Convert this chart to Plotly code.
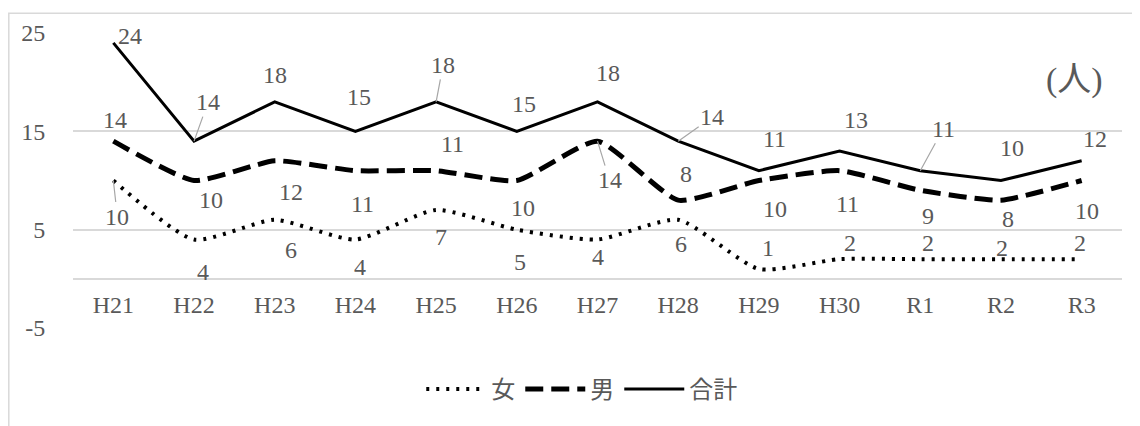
import plotly.graph_objects as go

categories = ["H21", "H22", "H23", "H24", "H25", "H26", "H27", "H28", "H29", "H30", "R1", "R2", "R3"]
female = [10, 4, 6, 4, 7, 5, 4, 6, 1, 2, 2, 2, 2]
male = [14, 10, 12, 11, 11, 10, 14, 8, 10, 11, 9, 8, 10]
total = [24, 14, 18, 15, 18, 15, 18, 14, 11, 13, 11, 10, 12]
y_ticks = [-5, 5, 15, 25]
y_tick_text = ["-5", "5", "15", "25"]
unit_label = "(人)"

# label placement (pixel offsets from the point, screen coords: +dy = down), leader flag
total_off = [(17, -7, 0), (14, -39, 1), (0, -27, 0), (4, -34, 0), (7, -37, 1), (7, -27, 0), (10, -29, 0),
             (34, -24, 1), (16, -32, 0), (16, -31, 0), (23, -42, 1), (11, -33, 0), (13, -22, 0)]
male_off = [(2, -21, 0), (17, 19, 0), (16, 31, 0), (7, 33, 0), (16, -27, 0), (6, 27, 0), (12, 39, 1),
            (8, -26, 0), (16, 28, 0), (8, 33, 0), (8, 26, 0), (7, 19, 0), (5, 30, 0)]
female_off = [(4, 36, 1), (9, 32, 0), (16, 30, 0), (5, 27, 0), (5, 27, 0), (3, 32, 0), (0, 17, 0),
              (3, 24, 0), (9, -21, 0), (10, -16, 0), (8, -16, 0), (1, -11, 0), (-2, -16, 0)]

FONT = "'Liberation Serif', 'Noto Sans CJK JP', serif"
TXT = "#595959"
GRID = "#d9d9d9"
FS = 24

fig = go.Figure()
fig.add_trace(go.Scatter(x=categories, y=female, name="女", mode="lines",
                         line=dict(color="black", width=4, dash="3px,7px", shape="spline", smoothing=0.6)))
fig.add_trace(go.Scatter(x=categories, y=male, name="男", mode="lines",
                         line=dict(color="black", width=5, dash="18px,8px", shape="spline", smoothing=0.5)))
fig.add_trace(go.Scatter(x=categories, y=total, name="合計", mode="lines",
                         line=dict(color="black", width=3)))

annotations = []
for vals, offs in ((total, total_off), (male, male_off), (female, female_off)):
    for c, v, (dx, dy, lead) in zip(categories, vals, offs):
        if lead:
            annotations.append(dict(x=c, y=v, xref="x", yref="y", text=str(v), showarrow=True,
                                    ax=dx, ay=dy, arrowhead=0, arrowwidth=1.2, arrowcolor="#a6a6a6",
                                    xanchor="center", yanchor="middle",
                                    font=dict(family=FONT, size=FS, color=TXT)))
        else:
            annotations.append(dict(x=c, y=v, xref="x", yref="y", text=str(v), showarrow=False,
                                    xshift=dx, yshift=-dy, xanchor="center", yanchor="middle",
                                    font=dict(family=FONT, size=FS, color=TXT)))

annotations.append(dict(x=0.955, y=0.84, xref="paper", yref="paper", text=unit_label, showarrow=False,
                        xanchor="center", yanchor="middle", font=dict(family=FONT, size=34, color=TXT)))

fig.update_layout(
    width=1132, height=418,
    margin=dict(l=65, r=18, t=22, b=98),
    paper_bgcolor="white", plot_bgcolor="white",
    font=dict(family=FONT, size=FS, color=TXT),
    showlegend=True,
    legend=dict(orientation="h", x=0.485, y=-0.208, xanchor="center", yanchor="middle",
                font=dict(family=FONT, size=FS, color=TXT), itemwidth=60),
    annotations=annotations,
    shapes=[dict(type="rect", xref="paper", yref="paper", x0=-0.0612, y0=-0.5, x1=1.2, y1=1.067,
                 line=dict(color=GRID, width=1.5), fillcolor="rgba(0,0,0,0)", layer="below")],
)
fig.update_yaxes(range=[-5, 25], tickvals=y_ticks, ticktext=y_tick_text, showgrid=True, gridcolor=GRID,
                 gridwidth=1.5, zeroline=True, zerolinecolor=GRID, zerolinewidth=1.5, showline=False,
                 ticks="outside", ticklen=22, tickcolor="rgba(0,0,0,0)",
                 tickfont=dict(family=FONT, size=FS, color=TXT))
fig.update_xaxes(range=[-0.5, 12.5], anchor="free", position=5 / 30, showgrid=False, zeroline=False,
                 showline=False, ticks="outside", ticklen=4, tickcolor="rgba(0,0,0,0)",
                 tickfont=dict(family=FONT, size=FS, color=TXT))

fig.write_html("out.html")
